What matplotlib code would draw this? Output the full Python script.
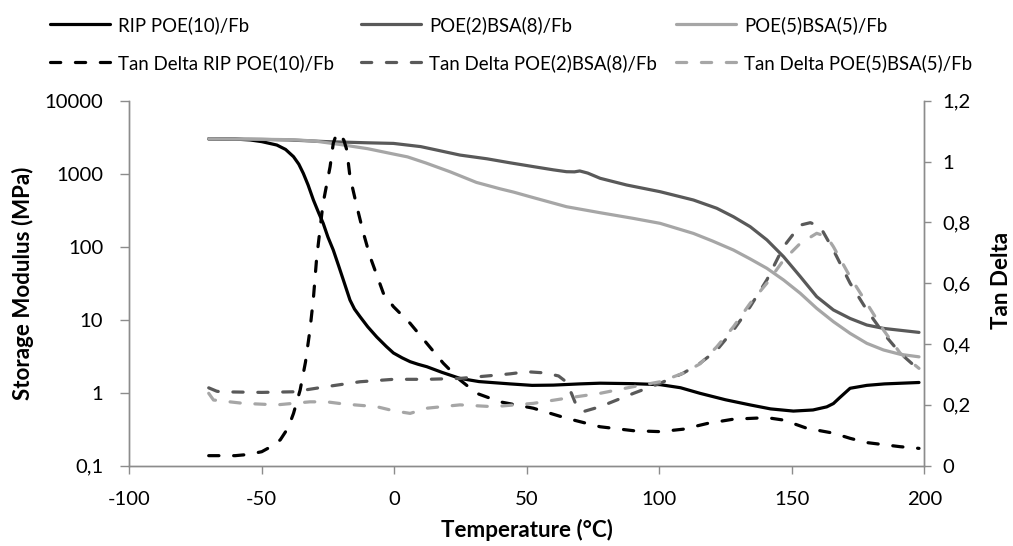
import matplotlib
matplotlib.use("Agg")
import matplotlib.pyplot as plt
from matplotlib.ticker import FixedLocator, FuncFormatter, NullLocator

plt.rcParams['font.family'] = ['Lato', 'DejaVu Sans']
plt.rcParams['axes.unicode_minus'] = False

# ---------------- data ----------------
rip_T = [-70, -60, -54.4, -50, -44.3, -41, -38, -36, -34.3, -32.5, -30.5, -28.5, -26.8, -25, -23, -21,
         -19.2, -16.7, -15, -12.9, -10, -6.6, -3, -0.3, 3, 6, 9, 12.3, 18, 24.8, 32, 43.7, 52, 60, 70,
         77.7, 90, 100.3, 108, 115.4, 125, 134.3, 142, 150.6, 158, 163.2, 165.7, 168, 172, 178.3, 185, 198]
rip_E = [3000, 2980, 2900, 2750, 2470, 2150, 1710, 1350, 1010, 700, 436, 290, 209, 135, 90, 55,
         35, 18.6, 14, 11, 8, 5.8, 4.3, 3.5, 3.0, 2.66, 2.45, 2.27, 1.9, 1.57, 1.42, 1.32, 1.26, 1.27, 1.32,
         1.35, 1.33, 1.29, 1.17, 0.98, 0.8, 0.68, 0.6, 0.56, 0.58, 0.64, 0.71, 0.85, 1.15, 1.26, 1.32, 1.38]

b28_T = [-70, -50, -40, -25.5, -10, -0.3, 10, 16, 24.8, 35, 43.7, 52.5, 60, 65, 68, 70, 73, 77.7,
         87.7, 100.3, 112.9, 121.7, 128, 134.3, 140.6, 146.9, 153.2, 159.4, 165.7, 172, 178.3, 184.6, 198]
b28_E = [3000, 2950, 2900, 2750, 2650, 2600, 2350, 2110, 1800, 1600, 1410, 1250, 1130, 1065, 1060, 1090, 1020, 865,
         700, 567, 436, 336, 257, 188, 124, 73, 39, 20.7, 13.6, 10.4, 8.46, 7.6, 6.7]

b55_T = [-70, -55, -38, -30, -20, -10, 0, 5, 12, 21, 31, 40, 45, 52.5, 65, 77.7, 90, 100.3, 112.9,
         120, 128, 134.3, 140.6, 146.9, 153.2, 159.4, 165.7, 172, 178.3, 184.6, 191, 198]
b55_E = [3000, 2980, 2920, 2800, 2500, 2200, 1850, 1700, 1400, 1065, 760, 620, 560, 470, 353, 292, 245, 209, 152,
         120, 90, 68, 50.6, 35, 23, 14.3, 9.4, 6.5, 4.75, 3.85, 3.35, 3.1]

tan_rip_T = [-70, -60, -55, -50, -46, -43, -40, -38, -35.5, -33.5, -31.8, -30.5, -29.3, -26.9, -24.2, -23,
             -21.7, -20.5, -19, -17.9, -16.7, -14.1, -11.6, -9.1, -4.1, -0.3, 6, 12.3, 18.5, 24.8, 31.1,
             39.9, 52.5, 65, 77.7, 90.3, 100.3, 109, 118.2, 128, 140.6, 146.9, 155.7, 165.7, 172, 178.3,
             190.9, 198]
tan_rip = [0.033, 0.033, 0.037, 0.046, 0.065, 0.085, 0.125, 0.172, 0.249, 0.34, 0.446, 0.55, 0.68, 0.86, 0.983, 1.06,
           1.093, 1.09, 1.07, 1.038, 0.95, 0.852, 0.764, 0.687, 0.567, 0.523, 0.468, 0.402, 0.337, 0.282, 0.238,
           0.21, 0.189, 0.156, 0.128, 0.115, 0.112, 0.12, 0.139, 0.153, 0.158, 0.15, 0.123, 0.107, 0.09, 0.076,
           0.0625, 0.057]

tan_b28_T = [-70, -67, -65.7, -50, -38, -25.5, -12.9, -0.3, 12.3, 24.8, 35, 43.7, 50, 57, 62, 65, 67, 68.9,
             71.4, 77.7, 90.3, 100.3, 109, 115.4, 121.7, 128, 134.3, 140.6, 146.9, 153.2, 157, 160.7, 165.7,
             172, 178.3, 184.6, 190.9, 198]
tan_b28 = [0.256, 0.245, 0.243, 0.241, 0.243, 0.26, 0.276, 0.284, 0.284, 0.287, 0.295, 0.302, 0.309, 0.305, 0.295,
           0.275, 0.235, 0.194, 0.178, 0.194, 0.238, 0.271, 0.304, 0.337, 0.38, 0.446, 0.523, 0.611, 0.72, 0.791,
           0.799, 0.786, 0.709, 0.6, 0.512, 0.435, 0.37, 0.315]

tan_b55_T = [-70, -68.2, -57, -44.3, -31.8, -25.5, -19.2, -6.6, 0, 6, 12.3, 24.8, 37.4, 52.5, 65, 77.7, 90.3,
             100.3, 109, 115.4, 121.7, 128, 134.3, 140.6, 146.9, 153.2, 159.4, 163.2, 165.7, 172, 178.3,
             184.6, 190.9, 198]
tan_b55 = [0.238, 0.216, 0.205, 0.2, 0.21, 0.21, 0.203, 0.194, 0.18, 0.172, 0.189, 0.2, 0.194, 0.205, 0.222, 0.238,
           0.26, 0.276, 0.304, 0.335, 0.391, 0.457, 0.534, 0.6, 0.676, 0.731, 0.764, 0.753, 0.72, 0.621, 0.534,
           0.446, 0.37, 0.32]

labels = ['RIP POE(10)/Fb', 'POE(2)BSA(8)/Fb', 'POE(5)BSA(5)/Fb',
          'Tan Delta RIP POE(10)/Fb', 'Tan Delta POE(2)BSA(8)/Fb', 'Tan Delta POE(5)BSA(5)/Fb']
x_ticks = [-100, -50, 0, 50, 100, 150, 200]
y_ticks = [0.1, 1, 10, 100, 1000, 10000]
y2_ticks = [0, 0.2, 0.4, 0.6, 0.8, 1.0, 1.2]

# ---------------- style ----------------
W, H = 1013, 546
BLACK = '#000000'
DARK = '#595959'
LIGHT = '#a6a6a6'
AXC = '#8c8c8c'
LW = 2.3
DASH = (3.2, 4.6)
PX = 72.0 / 100.0   # points per pixel

AX_L, AX_R, AX_T, AX_B = 129.2, 924.3, 100.7, 465.7

fig = plt.figure(figsize=(W / 100, H / 100), dpi=100)
ax = fig.add_axes([AX_L / W, 1 - AX_B / H, (AX_R - AX_L) / W, (AX_B - AX_T) / H])
ax2 = ax.twinx()

l1, = ax.plot(rip_T, rip_E, color=BLACK, lw=LW, solid_capstyle='round', solid_joinstyle='round')
l2, = ax.plot(b28_T, b28_E, color=DARK, lw=LW, solid_capstyle='round', solid_joinstyle='round')
l3, = ax.plot(b55_T, b55_E, color=LIGHT, lw=LW, solid_capstyle='round', solid_joinstyle='round')

d1, = ax2.plot(tan_rip_T, tan_rip, color=BLACK, lw=LW, dashes=DASH, dash_capstyle='round')
d2, = ax2.plot(tan_b28_T, tan_b28, color=DARK, lw=LW, dashes=DASH, dash_capstyle='round')
d3, = ax2.plot(tan_b55_T, tan_b55, color=LIGHT, lw=LW, dashes=DASH, dash_capstyle='round')

ax.set_xlim(-100, 200)
ax.set_yscale('log')
ax.set_ylim(0.1, 10000)
ax2.set_ylim(0, 1.2)

def comma(v, pos=None):
    if abs(v - round(v)) < 1e-9:
        return '%d' % round(v)
    s = ('%.1f' % v) if v >= 0.1 else ('%g' % v)
    return s.replace('.', ',')

ax.xaxis.set_major_locator(FixedLocator(x_ticks))
ax.yaxis.set_major_locator(FixedLocator(y_ticks))
ax.yaxis.set_minor_locator(NullLocator())
ax.yaxis.set_major_formatter(FuncFormatter(comma))
ax2.yaxis.set_major_locator(FixedLocator(y2_ticks))
ax2.yaxis.set_major_formatter(FuncFormatter(comma))

for a in (ax, ax2):
    for s in a.spines.values():
        s.set_color(AXC)
        s.set_linewidth(1.0)
    a.spines['top'].set_visible(False)

# measure helper for fitting font sizes to the reference widths
renderer = fig.canvas.get_renderer()
def text_w(s, size, weight='normal'):
    t = fig.text(0, 0, s, fontsize=size, fontweight=weight)
    w = t.get_window_extent(renderer).width
    t.remove()
    return w

TICKFS = 14 * 59.0 / text_w('10000', 14)
TITLEFS = 14 * 236.0 / text_w('Storage Modulus (MPa)', 14, 'bold')
LEGFS = 12 * 215.0 / text_w('Tan Delta RIP POE(10)/Fb', 12)

ax.tick_params(axis='y', which='both', direction='out', length=9 * PX, width=1.0, color=AXC,
               labelsize=TICKFS, labelcolor='black', pad=17 * PX)
ax.tick_params(axis='x', direction='out', length=8 * PX, width=1.0, color=AXC,
               labelsize=TICKFS, labelcolor='black', pad=17.5 * PX)
ax2.tick_params(axis='y', direction='out', length=7 * PX, width=1.0, color=AXC,
                labelsize=TICKFS, labelcolor='black', pad=11 * PX)

xl = ax.set_xlabel('Temperature (°C)', fontsize=TITLEFS, fontweight='bold')
xl.set_verticalalignment('center')
ax.xaxis.set_label_coords(0.5, (AX_B - 530) / (AX_B - AX_T))
yl = ax.set_ylabel('Storage Modulus (MPa)', fontsize=TITLEFS, fontweight='bold')
yl.set_verticalalignment('center')
ax.yaxis.set_label_coords((23 - AX_L) / (AX_R - AX_L), 0.5)
y2l = ax2.set_ylabel('Tan Delta', fontsize=TITLEFS, fontweight='bold')
y2l.set_verticalalignment('center')
ax2.yaxis.set_label_coords((1002 - AX_L) / (AX_R - AX_L), (AX_B - 280) / (AX_B - AX_T))

# ---------------- legend ----------------
legfs_px = LEGFS / PX
entries = [(l1, labels[0], 50, 25), (l2, labels[1], 361, 25), (l3, labels[2], 676, 25),
           (d1, labels[3], 50, 63), (d2, labels[4], 361, 63), (d3, labels[5], 676, 63)]
for h, t, xp, yp in entries:
    leg = fig.legend([h], [t], loc='center left', bbox_to_anchor=(xp / W, 1 - yp / H),
                     frameon=False, fontsize=LEGFS, handlelength=60.0 / legfs_px,
                     handletextpad=8.0 / legfs_px, borderpad=0, borderaxespad=0)

fig.savefig('out.png', dpi=100)
